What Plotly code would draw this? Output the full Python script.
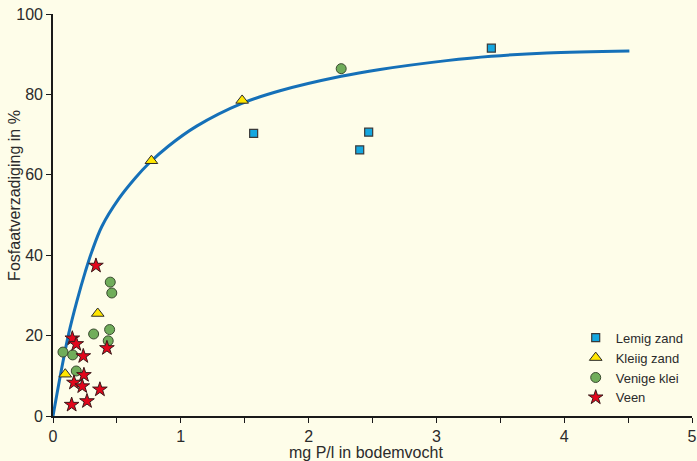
import plotly.graph_objects as go

# ---- data ----
lemig_x = [3.43, 1.57, 2.47, 2.40]
lemig_y = [91.5, 70.3, 70.6, 66.2]

kleiig_x = [1.48, 0.77, 0.35, 0.096]
kleiig_y = [78.5, 63.5, 25.5, 10.4]

venige_x = [2.255, 0.448, 0.46, 0.318, 0.443, 0.432, 0.078, 0.154, 0.182]
venige_y = [86.4, 33.3, 30.6, 20.4, 21.5, 18.7, 15.9, 15.2, 11.2]

veen_x = [0.336, 0.151, 0.182, 0.237, 0.422, 0.242, 0.164, 0.229, 0.367, 0.266, 0.146]
veen_y = [37.4, 19.3, 17.9, 14.9, 16.9, 10.2, 8.3, 7.4, 6.6, 3.7, 2.8]

curve_x = [0, 0.070, 0.123, 0.188, 0.253, 0.305, 0.383, 0.514, 0.644, 0.749, 0.902,
           1.124, 1.473, 1.776, 2.255, 2.559, 3.08, 3.43, 3.863, 4.51]
curve_y = [0, 12.2, 20.5, 28.7, 35.9, 41.0, 47.2, 54.0, 59.2, 62.8, 67.1,
           72.1, 77.7, 80.9, 84.5, 86.2, 88.4, 89.5, 90.3, 90.8]

x_ticks = [0, 1, 2, 3, 4, 5]
y_ticks = [0, 20, 40, 60, 80, 100]
x_title = "mg P/l in bodemvocht"
y_title = "Fosfaatverzadiging in %"
series_names = ["Lemig zand", "Kleiig zand", "Venige klei", "Veen"]

BG = "#FEFDE9"
FONT = "Liberation Sans, Arial, sans-serif"
TXT = "#2b2b2b"

fig = go.Figure()

fig.add_trace(go.Scatter(
    x=curve_x, y=curve_y, mode="lines", line=dict(color="#1570B8", width=3, shape="spline", smoothing=1.0),
    showlegend=False, hoverinfo="skip", cliponaxis=False))

fig.add_trace(go.Scatter(
    x=lemig_x, y=lemig_y, mode="markers", name=series_names[0], cliponaxis=False,
    marker=dict(symbol="square", size=8, color="#14A7E0", line=dict(color="#3a3a3a", width=1.2))))
fig.add_trace(go.Scatter(
    x=kleiig_x, y=kleiig_y, mode="markers", name=series_names[1], cliponaxis=False,
    marker=dict(symbol="triangle-up", size=11, color="#FFE600", line=dict(color="#2a2a2a", width=1))))
fig.add_trace(go.Scatter(
    x=venige_x, y=venige_y, mode="markers", name=series_names[2], cliponaxis=False,
    marker=dict(symbol="circle", size=10, color="#70AD5A", line=dict(color="#3a4a30", width=1))))
fig.add_trace(go.Scatter(
    x=veen_x, y=veen_y, mode="markers", name=series_names[3], cliponaxis=False,
    marker=dict(symbol="star", size=11, color="#E2061B", line=dict(color="#3a1a1a", width=1))))

fig.update_layout(
    width=697, height=461,
    margin=dict(l=53, r=5, t=14, b=45, autoexpand=False),
    paper_bgcolor=BG, plot_bgcolor=BG,
    font=dict(family=FONT, size=16, color=TXT),
    legend=dict(x=0.818, y=0.232, xanchor="left", yanchor="top",
                bgcolor="rgba(0,0,0,0)", font=dict(size=13, color=TXT),
                tracegroupgap=0, itemwidth=30),
    xaxis=dict(range=[0, 5], tickvals=x_ticks, ticktext=[str(v) for v in x_ticks], automargin=False,
               showline=True, linecolor="#1a1a1a", linewidth=1.6, showgrid=False, zeroline=False,
               ticks="outside", ticklen=5, tickwidth=1.2, tickcolor="#1a1a1a",
               minor=dict(dtick=0.5, tick0=0, ticks="outside", ticklen=5, tickwidth=1.2, tickcolor="#1a1a1a"),
               tickfont=dict(size=16, color=TXT)),
    yaxis=dict(range=[0, 100], tickvals=y_ticks, ticktext=[str(v) for v in y_ticks], automargin=False,
               showline=True, linecolor="#1a1a1a", linewidth=1.6, showgrid=False, zeroline=False,
               ticks="outside", ticklen=5, tickwidth=1.2, tickcolor="#1a1a1a",
               tickfont=dict(size=16, color=TXT)),
    annotations=[
        dict(text=x_title, xref="paper", yref="paper", x=0.49, y=-0.09,
             xanchor="center", yanchor="middle", showarrow=False, font=dict(size=16, color=TXT)),
        dict(text=y_title, xref="paper", yref="paper", x=-0.0595, y=0.55, textangle=-90,
             xanchor="center", yanchor="middle", showarrow=False, font=dict(size=16, color=TXT)),
    ],
)

fig.write_html("out.html", config={"displayModeBar": False},
               post_script="document.body.style.margin='0px';document.body.style.background='" + BG + "';")
